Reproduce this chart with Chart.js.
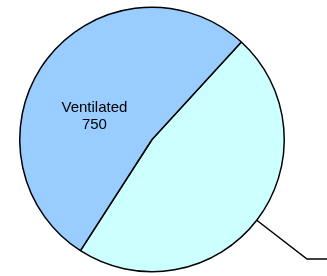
<!DOCTYPE html>
<html>
<head>
<meta charset="utf-8">
<script src="https://cdn.jsdelivr.net/npm/chart.js@4"></script>
<style>
  html, body { margin: 0; padding: 0; background: #fff; }
  canvas { display: block; }
</style>
</head>
<body>
<canvas id="pieChart" width="327" height="276"></canvas>
<script>
const categories = ["Not ventilated", "Ventilated"];
const values = [673, 750];
const colors = ["#CCFFFF", "#99CCFF"];
const showInside = [false, true];

// labels: inside text for Ventilated, leader line for the other slice
const sliceLabels = {
    id: "sliceLabels",
    afterDatasetsDraw(chart) {
        const ctx = chart.ctx;
        const arcs = chart.getDatasetMeta(0).data;
        ctx.save();
        arcs.forEach((arc, i) => {
            const { x, y, startAngle, endAngle, outerRadius } = arc.getProps(["x", "y", "startAngle", "endAngle", "outerRadius"], true);
            const mid = (startAngle + endAngle) / 2;
            if (showInside[i]) {
                const a = mid - 0.27;
                const lx = x + Math.cos(a) * outerRadius * 0.47;
                const ly = y + Math.sin(a) * outerRadius * 0.47;
                ctx.fillStyle = "#000";
                ctx.font = "15px 'Liberation Sans', Arial, sans-serif";
                ctx.textAlign = "center";
                ctx.textBaseline = "middle";
                ctx.fillText(categories[i], lx, ly - 8.5);
                ctx.fillText(String(values[i]), lx, ly + 8.5);
            } else {
                const sx = x + Math.cos(mid) * outerRadius;
                const sy = y + Math.sin(mid) * outerRadius;
                const ex = x + Math.cos(mid) * outerRadius * 1.48;
                const ey = y + Math.sin(mid) * outerRadius * 1.48;
                ctx.strokeStyle = "#000";
                ctx.lineWidth = 1.5;
                ctx.beginPath();
                ctx.moveTo(sx, sy);
                ctx.lineTo(ex, ey);
                ctx.lineTo(chart.width + 10, ey);
                ctx.stroke();
            }
        });
        ctx.restore();
    }
};

new Chart(document.getElementById("pieChart"), {
    type: "pie",
    data: {
        labels: categories,
        datasets: [{
            data: values,
            backgroundColor: colors,
            borderColor: "#000",
            borderWidth: 1.5
        }]
    },
    options: {
        responsive: false,
        animation: false,
        rotation: 42.5,
        layout: { padding: { left: 19, right: 42, top: 6.5, bottom: 3.5 } },
        plugins: {
            legend: { display: false },
            tooltip: { enabled: false }
        }
    },
    plugins: [sliceLabels]
});
</script>
</body>
</html>
